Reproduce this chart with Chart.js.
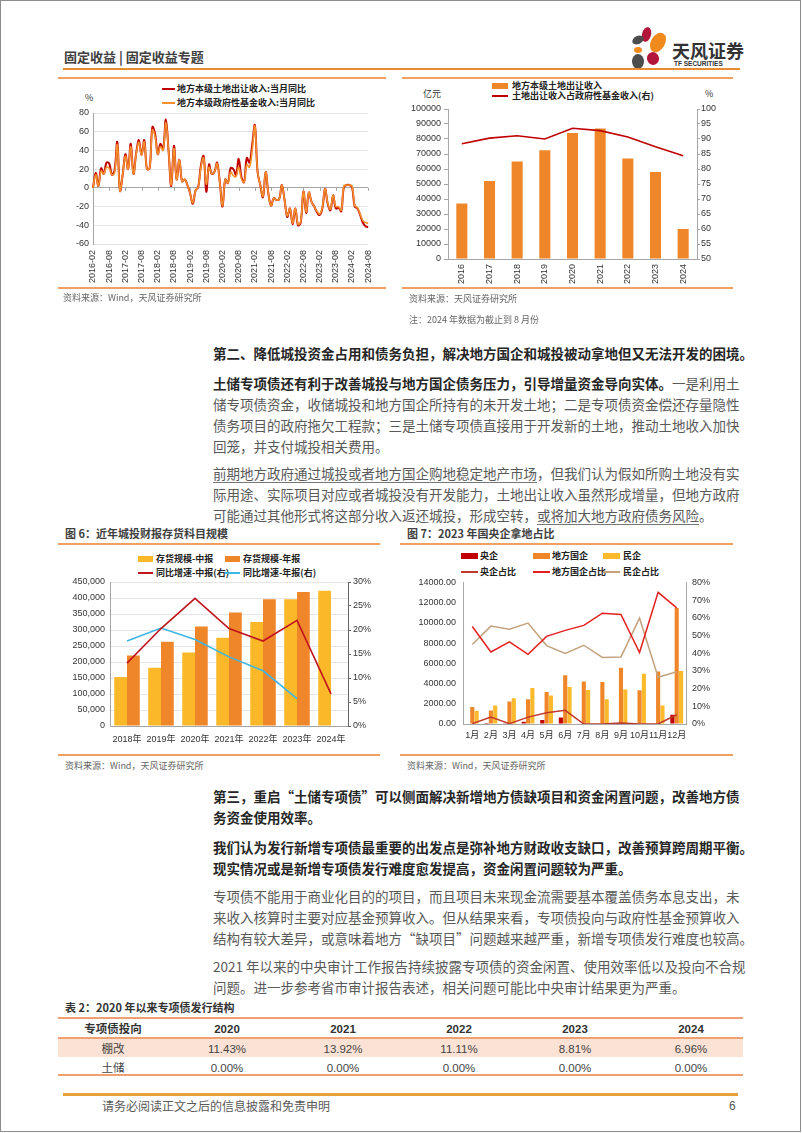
<!DOCTYPE html>
<html>
<head>
<meta charset="utf-8">
<script src="https://cdn.jsdelivr.net/npm/chart.js@4.4.1/dist/chart.umd.min.js"></script>
<style>
  html, body { margin: 0; padding: 0; background: #fff; }
  #page { position: relative; width: 802px; height: 1133px; overflow: hidden; background: #fff;
          font-family: "Noto Sans CJK SC", "Liberation Sans", sans-serif; }
  .abs { position: absolute; white-space: nowrap; }
  .frame { position: absolute; left: 0; top: 0; width: 799px; height: 1130px; border: 1px solid #8c8c8c; }
  .rule { position: absolute; height: 2px; background: #F1A062; }
  .ln { position: absolute; left: 213px; width: 525px; height: 22px; line-height: 22px; font-size: 13.5px;
        white-space: nowrap; color: #595959; }
  .j { text-align: justify; text-align-last: justify; }
  .b { font-weight: bold; color: #262626; }
  .u { text-decoration: underline; text-decoration-color: #777; text-underline-offset: 3px; }
  .src { position: absolute; font-size: 9px; color: #666; white-space: nowrap; line-height: 12px; }
  .lg { position: absolute; font-size: 9px; font-weight: bold; color: #222; white-space: nowrap; line-height: 12px; }
  .sw { position: absolute; }
  .ftitle { position: absolute; font-size: 11px; font-weight: bold; color: #404040; white-space: nowrap; line-height: 14px; }
  .tc { position: absolute; width: 110px; text-align: center; font-size: 11.5px; line-height: 16px; color: #444;
        font-family: "Liberation Sans Narrow", "Liberation Sans", "Noto Sans CJK SC", sans-serif; }
  .th { font-weight: bold; color: #333; }
  canvas { position: absolute; }
  .petal { position: absolute; border-radius: 50%; }
</style>
</head>
<body>
<div id="page">
  <div class="frame"></div>

  <!-- header -->
  <div class="abs" style="left:64px; top:49px; font-size:13px; font-weight:bold; color:#404040; line-height:16px;">固定收益 | 固定收益专题</div>
  <div class="petal" style="left:642px; top:27px; width:9px; height:15px; background:#B3163B; transform:rotate(15deg);"></div>
  <div class="petal" style="left:651px; top:32px; width:14px; height:21px; background:#F08A1C; transform:rotate(30deg);"></div>
  <div class="petal" style="left:632px; top:36px; width:12px; height:8px; background:#4D4D4D; transform:rotate(-25deg);"></div>
  <div class="petal" style="left:634px; top:47px; width:8px; height:6px; background:#F08A1C;"></div>
  <div class="petal" style="left:632px; top:54px; width:12px; height:15px; background:#4D4D4D;"></div>
  <div class="petal" style="left:647px; top:52px; width:12px; height:13px; background:#B3163B; transform:rotate(-20deg);"></div>
  <div class="abs" style="left:672px; top:39px; font-size:18px; font-weight:bold; color:#333; line-height:22px;">天风证券</div>
  <div class="abs" style="left:674px; top:60px; font-size:6.5px; font-weight:bold; color:#333; line-height:8px; font-family:'Liberation Sans Narrow','Liberation Sans',sans-serif;">TF SECURITIES</div>
  <div class="rule" style="left:63px; top:68px; width:677px; background:#E98B2E;"></div>

  <!-- chart 1 -->
  <div class="rule" style="left:58px; top:77px; width:328px;"></div>
  <div class="sw" style="left:162px; top:88px; width:13px; height:2px; background:#C00000;"></div>
  <div class="lg" style="left:177px; top:83px;">地方本级土地出让收入:当月同比</div>
  <div class="sw" style="left:162px; top:102px; width:13px; height:2px; background:#F5902C;"></div>
  <div class="lg" style="left:177px; top:97px;">地方本级政府性基金收入:当月同比</div>
  <div class="src" style="left:85px; top:92px; color:#333;">%</div>
  <canvas id="c1" width="323" height="190" style="left:62px; top:100px;"></canvas>
  <div class="rule" style="left:58px; top:287px; width:328px;"></div>
  <div class="src" style="left:63px; top:292px;">资料来源：Wind，天风证券研究所</div>

  <!-- chart 2 -->
  <div class="rule" style="left:402px; top:77px; width:331px;"></div>
  <div class="sw" style="left:492px; top:83px; width:16px; height:6px; background:#F0862A;"></div>
  <div class="lg" style="left:512px; top:80px;">地方本级土地出让收入</div>
  <div class="sw" style="left:492px; top:95px; width:16px; height:2px; background:#C00000;"></div>
  <div class="lg" style="left:512px; top:90px;">土地出让收入占政府性基金收入(右)</div>
  <div class="src" style="left:423px; top:88px; color:#333;">亿元</div>
  <div class="src" style="left:705px; top:88px; color:#333;">%</div>
  <canvas id="c2" width="338" height="194" style="left:402px; top:96px;"></canvas>
  <div class="rule" style="left:402px; top:287px; width:331px;"></div>
  <div class="src" style="left:409px; top:293px;">资料来源：天风证券研究所</div>
  <div class="src" style="left:409px; top:314px;">注：2024 年数据为截止到 8 月份</div>

  <!-- body text part 1 -->
  <div class="ln b j" style="top:342px;">第二、降低城投资金占用和债务负担，解决地方国企和城投被动拿地但又无法开发的困境。</div>
  <div class="ln j" style="top:372px;"><span class="b">土储专项债还有利于改善城投与地方国企债务压力，引导增量资金导向实体。</span>一是利用土</div>
  <div class="ln j" style="top:393px;">储专项债资金，收储城投和地方国企所持有的未开发土地；二是专项债资金偿还存量隐性</div>
  <div class="ln j" style="top:414px;">债务项目的政府拖欠工程款；三是土储专项债直接用于开发新的土地，推动土地收入加快</div>
  <div class="ln" style="top:435px;">回笼，并支付城投相关费用。</div>
  <div class="ln j" style="top:462px;"><span class="u">前期地方政府通过城投或者地方国企购地稳定地产市场</span>，但我们认为假如所购土地没有实</div>
  <div class="ln j" style="top:483px;">际用途、实际项目对应或者城投没有开发能力，土地出让收入虽然形成增量，但地方政府</div>
  <div class="ln" style="top:504px;">可能通过其他形式将这部分收入返还城投，形成空转，<span class="u">或将加大地方政府债务风险</span>。</div>

  <!-- figure 6 -->
  <div class="ftitle" style="left:65px; top:526px;">图 6：近年城投财报存货科目规模</div>
  <div class="rule" style="left:58px; top:543px; width:322px;"></div>
  <div class="sw" style="left:138px; top:556px; width:15px; height:6px; background:#FBB829;"></div>
  <div class="lg" style="left:156px; top:553px;">存货规模-中报</div>
  <div class="sw" style="left:225px; top:556px; width:15px; height:6px; background:#F0862A;"></div>
  <div class="lg" style="left:243px; top:553px;">存货规模-年报</div>
  <div class="sw" style="left:138px; top:572px; width:15px; height:2px; background:#C0141E;"></div>
  <div class="lg" style="left:156px; top:567px;">同比增速-中报(右)</div>
  <div class="sw" style="left:225px; top:572px; width:15px; height:2px; background:#3CB6E3;"></div>
  <div class="lg" style="left:243px; top:567px;">同比增速-年报(右)</div>
  <canvas id="c6" width="330" height="178" style="left:58px; top:570px;"></canvas>
  <div class="rule" style="left:58px; top:754px; width:322px;"></div>
  <div class="src" style="left:65px; top:760px;">资料来源：Wind，天风证券研究所</div>

  <!-- figure 7 -->
  <div class="ftitle" style="left:407px; top:526px;">图 7：2023 年国央企拿地占比</div>
  <div class="rule" style="left:400px; top:543px; width:333px;"></div>
  <div class="sw" style="left:461px; top:553px; width:17px; height:6px; background:#C00000;"></div>
  <div class="lg" style="left:480px; top:550px;">央企</div>
  <div class="sw" style="left:533px; top:553px; width:17px; height:6px; background:#F0862A;"></div>
  <div class="lg" style="left:552px; top:550px;">地方国企</div>
  <div class="sw" style="left:603px; top:553px; width:17px; height:6px; background:#FBBA2C;"></div>
  <div class="lg" style="left:623px; top:550px;">民企</div>
  <div class="sw" style="left:461px; top:571px; width:17px; height:2px; background:#C0392B;"></div>
  <div class="lg" style="left:480px; top:566px;">央企占比</div>
  <div class="sw" style="left:533px; top:571px; width:17px; height:2px; background:#E41E1E;"></div>
  <div class="lg" style="left:552px; top:566px;">地方国企占比</div>
  <div class="sw" style="left:603px; top:571px; width:17px; height:2px; background:#C4A27E;"></div>
  <div class="lg" style="left:623px; top:566px;">民企占比</div>
  <canvas id="c7" width="333" height="178" style="left:400px; top:570px;"></canvas>
  <div class="rule" style="left:400px; top:754px; width:333px;"></div>
  <div class="src" style="left:407px; top:760px;">资料来源：Wind，天风证券研究所</div>

  <!-- body text part 2 -->
  <div class="ln b j" style="top:785px;">第三，重启“土储专项债”可以侧面解决新增地方债缺项目和资金闲置问题，改善地方债</div>
  <div class="ln b" style="top:806px;">务资金使用效率。</div>
  <div class="ln b j" style="top:836px;">我们认为发行新增专项债最重要的出发点是弥补地方财政收支缺口，改善预算跨周期平衡。</div>
  <div class="ln b" style="top:857px;">现实情况或是新增专项债发行难度愈发提高，资金闲置问题较为严重。</div>
  <div class="ln j" style="top:885px;">专项债不能用于商业化目的的项目，而且项目未来现金流需要基本覆盖债务本息支出，未</div>
  <div class="ln j" style="top:906px;">来收入核算时主要对应基金预算收入。但从结果来看，专项债投向与政府性基金预算收入</div>
  <div class="ln j" style="top:927px;">结构有较大差异，或意味着地方“缺项目”问题越来越严重，新增专项债发行难度也较高。</div>
  <div class="ln j" style="top:955px;">2021 年以来的中央审计工作报告持续披露专项债的资金闲置、使用效率低以及投向不合规</div>
  <div class="ln" style="top:976px;">问题。进一步参考省市审计报告表述，相关问题可能比中央审计结果更为严重。</div>

  <!-- table 2 -->
  <div class="ftitle" style="left:65px; top:1000px; color:#333;">表 2：2020 年以来专项债发行结构</div>
  <div class="rule" style="left:58px; top:1017px; width:685px; background:#F0A070;"></div>
  <div class="tc th" style="left:58px; top:1021px;">专项债投向</div>
  <div class="tc th" style="left:172px; top:1021px;">2020</div>
  <div class="tc th" style="left:288px; top:1021px;">2021</div>
  <div class="tc th" style="left:404px; top:1021px;">2022</div>
  <div class="tc th" style="left:520px; top:1021px;">2023</div>
  <div class="tc th" style="left:636px; top:1021px;">2024</div>
  <div class="abs" style="left:58px; top:1039px; width:685px; height:18px; background:#FCE2D4;"></div>
  <div class="rule" style="left:58px; top:1037px; width:685px; background:#F0A070;"></div>
  <div class="tc" style="left:58px; top:1041px;">棚改</div>
  <div class="tc" style="left:172px; top:1041px;">11.43%</div>
  <div class="tc" style="left:288px; top:1041px;">13.92%</div>
  <div class="tc" style="left:404px; top:1041px;">11.11%</div>
  <div class="tc" style="left:520px; top:1041px;">8.81%</div>
  <div class="tc" style="left:636px; top:1041px;">6.96%</div>
  <div class="tc" style="left:58px; top:1060px;">土储</div>
  <div class="tc" style="left:172px; top:1060px;">0.00%</div>
  <div class="tc" style="left:288px; top:1060px;">0.00%</div>
  <div class="tc" style="left:404px; top:1060px;">0.00%</div>
  <div class="tc" style="left:520px; top:1060px;">0.00%</div>
  <div class="tc" style="left:636px; top:1060px;">0.00%</div>
  <div class="rule" style="left:58px; top:1074px; width:685px; background:#F0A070;"></div>

  <!-- footer -->
  <div class="rule" style="left:63px; top:1093px; width:675px; height:3px; background:#E8A13A;"></div>
  <div class="abs" style="left:102px; top:1098px; font-size:12px; color:#595959; line-height:16px;">请务必阅读正文之后的信息披露和免责申明</div>
  <div class="abs" style="left:729px; top:1098px; font-size:12px; color:#595959; line-height:16px; font-family:'Liberation Sans',sans-serif;">6</div>
</div>

<script>
// ---- chart 1: monthly yoy (%)
const monthLabels = [];
for (let y = 2016; y <= 2024; y++) {
  for (let m = 1; m <= 12; m++) {
    if ((y === 2016 && m < 2) || (y === 2024 && m > 8)) continue;
    monthLabels.push(y + "-" + String(m).padStart(2, "0"));
  }
}
const landYoY = [
  0, 16, 2, 21, 15, 27, 26, 14, 19, 49, -3, 14,
  36, 20, 47, 15, 37, 51, 35, 51, 20, 21, 65, 58,
  36, 47, 41, 73, 40, 2, 45, 9, 30, 7, 9, 3,
  -6, -17, -3, 1, 24, 34, -4, 25, 15, 17, 27, 6,
  -20, 9, 5, 21, 20, 14, 31, 12, 6, 32, 27, 46,
  67, 17, 3, -10, 17, -6, -19, -11, -13, -12, 3, -13,
  -31, -22, -39, -22, -40, -37, -4, -27, -5, -15, -20, -26,
  -29, -22, -1, -17, -24, -8, -22, -21, -25, 1, 3, 3,
  1, -20, -22, -29, -37, -41, -42
];
const fundYoY = [
  0, 14, 2, 18, 15, 22, 21, 14, 16, 46, -3, 14,
  34, 20, 44, 15, 36, 49, 35, 49, 20, 21, 62, 55,
  36, 44, 40, 70, 40, 3, 42, 9, 30, 7, 9, 3,
  -6, -16, -3, 1, 22, 32, 4, 22, 15, 17, 26, 6,
  -19, 9, 5, 17, 13, 12, 22, 10, 6, 25, 22, 40,
  66, 17, 3, -9, 17, -6, -19, -11, -13, -12, 3, -13,
  -30, -22, -38, -22, -39, -36, -4, -26, -5, -15, -20, -25,
  -28, -21, -1, -16, -23, -8, -20, -20, -24, 2, 3, 3,
  2, -19, -21, -28, -35, -37, -38
];

// ---- chart 2: land transfer income
const years2 = ["2016", "2017", "2018", "2019", "2020", "2021", "2022", "2023", "2024"];
const landIncome = [37000, 52000, 65000, 72500, 84000, 87000, 67000, 58000, 20000];
const landShare = [88.4, 90.3, 91.1, 90.0, 93.6, 92.8, 90.7, 87.4, 84.4];

// ---- figure 6: LGFV inventory
const years6 = ["2018年", "2019年", "2020年", "2021年", "2022年", "2023年", "2024年"];
const invMid = [153000, 182000, 230000, 276000, 325000, 396000, 423000];
const invYear = [220000, 263000, 311000, 355000, 396000, 419000, null];
const growthMid = [13.1, 20.3, 26.6, 20.3, 17.7, 22.0, 6.7];
const growthYear = [17.7, 20.4, 18.0, 14.4, 11.5, 5.7, null];

// ---- figure 7: land buyers 2023
const months7 = ["1月", "2月", "3月", "4月", "5月", "6月", "7月", "8月", "9月", "10月", "11月", "12月"];
const centralSOE = [40, 100, 20, 230, 390, 650, 0, 0, 20, 0, 0, 920];
const localSOE = [1670, 1340, 2220, 2450, 3170, 4810, 4190, 4150, 5560, 3340, 5200, 11480];
const privateCo = [1310, 1830, 2550, 3560, 2810, 3660, 3370, 2450, 3400, 4970, 1830, 5230];
const centralShare = [0.2, 3.9, 0.2, 3.9, 6.4, 7.7, 0, 0, 0.5, 0, 0, 5.2];
const localShare = [55.1, 40.7, 46.4, 39.4, 49.5, 52.9, 55.7, 62.6, 61.9, 40.4, 74.4, 65.6];
const privateShare = [44.9, 55.3, 53.6, 57.0, 44.3, 39.8, 44.5, 37.6, 37.9, 59.8, 26.4, 29.5];

Chart.defaults.font.family = "'Liberation Sans', 'Noto Sans CJK SC', sans-serif";
Chart.defaults.font.size = 9;
Chart.defaults.color = "#333";

const axisGray = "#A6A6A6";

function fixWidth(w) {
  return function (axis) { axis.width = w; };
}
function fixHeight(h) {
  return function (axis) { axis.height = h; };
}

const basePlugins = { legend: { display: false }, tooltip: { enabled: false } };

// small tick marks on the zero line of chart 1
const zeroTicks = {
  id: "zeroTicks",
  beforeDatasetsDraw(chart) {
    const { ctx, scales } = chart;
    const y0 = scales.y.getPixelForValue(0);
    ctx.save();
    ctx.strokeStyle = axisGray;
    ctx.lineWidth = 1;
    monthLabels.forEach(function (m, i) {
      if (i % 6 !== 0) return;
      const x = Math.round(scales.x.getPixelForValue(i)) + 0.5;
      ctx.beginPath();
      ctx.moveTo(x, y0);
      ctx.lineTo(x, y0 + 3);
      ctx.stroke();
    });
    ctx.restore();
  },
};

new Chart(document.getElementById("c1"), {
  type: "line",
  data: {
    labels: monthLabels,
    datasets: [
      { label: "地方本级政府性基金收入:当月同比", data: fundYoY, borderColor: "#F5902C", borderWidth: 1.6,
        pointRadius: 0, tension: 0.4, order: 0 },
      { label: "地方本级土地出让收入:当月同比", data: landYoY, borderColor: "#C00000", borderWidth: 2,
        pointRadius: 0, tension: 0.4, order: 1 },
    ],
  },
  options: {
    responsive: false,
    animation: false,
    layout: { padding: { top: 13, right: 13, left: 0, bottom: 0 } },
    plugins: basePlugins,
    scales: {
      x: {
        grid: { display: false, drawTicks: false },
        border: { display: false },
        ticks: {
          autoSkip: false, minRotation: 90, maxRotation: 90, padding: 6,
          callback: function (v, i) { return i % 6 === 0 ? this.getLabelForValue(v) : ""; },
        },
        afterFit: fixHeight(46),
      },
      y: {
        min: -60, max: 80,
        ticks: { stepSize: 20, padding: 4 },
        grid: { color: (c) => (c.tick && c.tick.value === 0 ? axisGray : "#E3E3E3"), drawTicks: false },
        border: { color: axisGray },
        afterFit: fixWidth(31),
      },
    },
  },
  plugins: [zeroTicks],
});

new Chart(document.getElementById("c2"), {
  type: "bar",
  data: {
    labels: years2,
    datasets: [
      { type: "line", label: "土地出让收入占政府性基金收入(右)", data: landShare, yAxisID: "y1",
        borderColor: "#C00000", borderWidth: 1.6, pointRadius: 0, tension: 0 },
      { label: "地方本级土地出让收入", data: landIncome, yAxisID: "y", backgroundColor: "#F0862A",
        categoryPercentage: 0.4, barPercentage: 1 },
    ],
  },
  options: {
    responsive: false,
    animation: false,
    layout: { padding: { top: 13, right: 0, left: 0, bottom: 0 } },
    plugins: basePlugins,
    scales: {
      x: {
        grid: { display: false, drawTicks: false },
        border: { color: axisGray },
        ticks: { minRotation: 90, maxRotation: 90, padding: 5 },
        afterFit: fixHeight(31),
      },
      y: {
        position: "left", min: 0, max: 100000,
        ticks: { stepSize: 10000, padding: 3, callback: (v) => String(v) },
        grid: { drawOnChartArea: false, tickLength: 4, color: axisGray },
        border: { color: axisGray },
        afterFit: fixWidth(46),
      },
      y1: {
        position: "right", min: 50, max: 100,
        ticks: { stepSize: 5, padding: 1 },
        grid: { drawOnChartArea: false, tickLength: 3, color: axisGray },
        border: { color: axisGray },
        afterFit: fixWidth(43),
      },
    },
  },
});

new Chart(document.getElementById("c6"), {
  type: "bar",
  data: {
    labels: years6,
    datasets: [
      { type: "line", label: "同比增速-中报(右)", data: growthMid, yAxisID: "y1",
        borderColor: "#C0141E", borderWidth: 1.6, pointRadius: 0 },
      { type: "line", label: "同比增速-年报(右)", data: growthYear, yAxisID: "y1",
        borderColor: "#3CB6E3", borderWidth: 1.6, pointRadius: 0 },
      { label: "存货规模-中报", data: invMid, backgroundColor: "#FBB829", categoryPercentage: 0.75, barPercentage: 1 },
      { label: "存货规模-年报", data: invYear, backgroundColor: "#F0862A", categoryPercentage: 0.75, barPercentage: 1 },
    ],
  },
  options: {
    responsive: false,
    animation: false,
    layout: { padding: { top: 12, right: 0, left: 0, bottom: 0 } },
    plugins: basePlugins,
    scales: {
      x: {
        grid: { display: false, drawTicks: false },
        border: { color: axisGray },
        ticks: { padding: 8, minRotation: 0, maxRotation: 0, autoSkip: false },
        afterFit: fixHeight(22),
      },
      y: {
        position: "left", min: 0, max: 450000,
        ticks: { stepSize: 50000, padding: 5, callback: (v) => v.toLocaleString("en-US") },
        grid: { color: "#E6E6E6", drawTicks: false },
        border: { color: axisGray },
        afterFit: fixWidth(52),
      },
      y1: {
        position: "right", min: 0, max: 30,
        ticks: { stepSize: 5, padding: 2, callback: (v) => v + "%" },
        grid: { drawOnChartArea: false, tickLength: 3, color: "#666" },
        border: { color: "#666" },
        afterFit: fixWidth(40),
      },
    },
  },
});

new Chart(document.getElementById("c7"), {
  type: "bar",
  data: {
    labels: months7,
    datasets: [
      { type: "line", label: "央企占比", data: centralShare, yAxisID: "y1",
        borderColor: "#C0392B", borderWidth: 1.5, pointRadius: 0 },
      { type: "line", label: "地方国企占比", data: localShare, yAxisID: "y1",
        borderColor: "#E41E1E", borderWidth: 1.5, pointRadius: 0 },
      { type: "line", label: "民企占比", data: privateShare, yAxisID: "y1",
        borderColor: "#C4A27E", borderWidth: 1.5, pointRadius: 0 },
      { label: "央企", data: centralSOE, backgroundColor: "#C00000", categoryPercentage: 0.7, barPercentage: 0.95 },
      { label: "地方国企", data: localSOE, backgroundColor: "#F0862A", categoryPercentage: 0.7, barPercentage: 0.95 },
      { label: "民企", data: privateCo, backgroundColor: "#FBBA2C", categoryPercentage: 0.7, barPercentage: 0.95 },
    ],
  },
  options: {
    responsive: false,
    animation: false,
    layout: { padding: { top: 12, right: 0, left: 0, bottom: 0 } },
    plugins: basePlugins,
    scales: {
      x: {
        grid: { display: false, drawTicks: false },
        border: { color: axisGray },
        ticks: { padding: 6, minRotation: 0, maxRotation: 0, autoSkip: false },
        afterFit: fixHeight(24),
      },
      y: {
        position: "left", min: 0, max: 14000,
        ticks: { stepSize: 2000, padding: 7, callback: (v) => v.toFixed(2) },
        grid: { drawOnChartArea: false, drawTicks: false },
        border: { color: axisGray },
        afterFit: fixWidth(63),
      },
      y1: {
        position: "right", min: 0, max: 80,
        ticks: { stepSize: 10, padding: 6, callback: (v) => v + "%" },
        grid: { drawOnChartArea: false, drawTicks: false },
        border: { color: axisGray },
        afterFit: fixWidth(47),
      },
    },
  },
});
</script>
</body>
</html>
